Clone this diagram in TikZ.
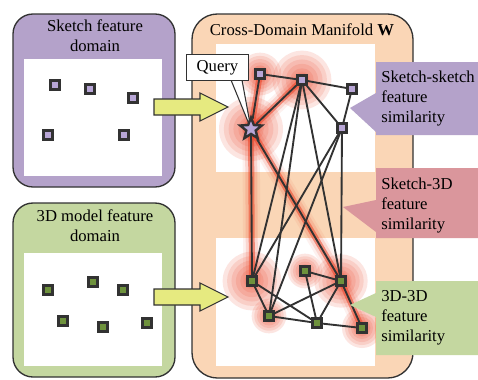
\documentclass[tikz,border=0pt]{standalone}
\usepackage{fontspec}
\setmainfont{Liberation Serif}
\usetikzlibrary{shapes.geometric}

\definecolor{skpurple}{RGB}{180,162,202}
\definecolor{mdgreen}{RGB}{196,215,160}
\definecolor{peach}{RGB}{250,214,182}
\definecolor{rose}{RGB}{218,150,156}
\definecolor{arrowyellow}{RGB}{230,234,128}
\definecolor{darkgray}{RGB}{50,50,50}
\definecolor{sknode}{RGB}{184,166,214}
\definecolor{mdnode}{RGB}{110,146,60}
\definecolor{halo}{RGB}{235,60,30}

\pgfdeclarelayer{bg}
\pgfdeclarelayer{glow}
\pgfsetlayers{bg,glow,main}

\tikzset{
  domainbox/.style={draw=darkgray, line width=1pt, rounded corners=15pt},
  sq/.style={draw=darkgray, line width=2.1pt, inner sep=0pt, minimum size=6.2pt},
  sk/.style={sq, fill=sknode},
  md/.style={sq, fill=mdnode},
  edge/.style={draw=darkgray, line width=1.4pt},
  txt/.style={font=\fontsize{12.5}{15}\selectfont, inner sep=0pt},
  arrowbox/.style={draw=darkgray, line width=0.8pt, fill=arrowyellow},
}

% red halo round a node
\newcommand\glowat[2]{%
  \foreach \f in {1,0.85,0.7,0.55,0.4,0.25}{\fill[halo, opacity=.13] (#1.center) circle[radius=#2*\f pt];}}
% red halo along a link
\newcommand\glowline[2]{%
  \draw[halo, opacity=.07, line width=13pt, line cap=round] (#1.center) -- (#2.center);
  \draw[halo, opacity=.14, line width=9pt, line cap=round] (#1.center) -- (#2.center);
  \draw[halo, opacity=.5, line width=4.5pt] (#1.center) -- (#2.center);}
% big yellow arrow at height #1
\newcommand\fatarrow[1]{%
  \draw[arrowbox] (154,{#1-8}) -- (200,{#1-8}) -- (200,{#1-14}) -- (228,#1)
    -- (200,{#1+14}) -- (200,{#1+8}) -- (154,{#1+8}) -- cycle;}

\begin{document}
\begin{tikzpicture}[x=0.75pt,y=-0.75pt]
\useasboundingbox (0,0) rectangle (478,379);

%domain boxes
\begin{pgfonlayer}{bg}
  \draw[domainbox, fill=skpurple] (13,14) rectangle (175,187);
  \fill[white] (24,59) rectangle (162,176);
  \draw[domainbox, fill=mdgreen] (13,203) rectangle (175,377);
  \fill[white] (24,253) rectangle (162,366);
  \draw[domainbox, rounded corners=19pt, fill=peach] (192,14) rectangle (413,378);
  \fill[white] (216,44) rectangle (375,172);
  \fill[white] (216,238) rectangle (375,366);
\end{pgfonlayer}

\node[txt, align=center] (sktitle) at (95,36) {Sketch feature\\domain};
\node[txt, align=center] (mdtitle) at (95,226) {3D model feature\\domain};
\node[txt] (wtitle) at (302,30) {Cross-Domain Manifold \textbf{W}};

% points in the two domains
\node[sk] (a1) at (55,85) {};
\node[sk] (a2) at (90,89) {};
\node[sk] (a3) at (133,98) {};
\node[sk] (a4) at (48,135) {};
\node[sk] (a5) at (124,135) {};
\node[md] (b1) at (48,290) {};
\node[md] (b2) at (93,282) {};
\node[md] (b3) at (123,290) {};
\node[md] (b4) at (63,321) {};
\node[md] (b5) at (103,327) {};
\node[md] (b6) at (147,323) {};

\fatarrow{107}
\fatarrow{297}

% manifold graph
\node[sk, minimum size=6.6pt] (s1) at (260,74) {};
\node[sk, minimum size=6.6pt] (s2) at (302,80) {};
\node[sk, minimum size=6.6pt] (s3) at (352,89) {};
\node[sk, minimum size=6.6pt] (s4) at (342,128) {};
\node[md, minimum size=6.6pt] (m1) at (252,281) {};
\node[md, minimum size=6.6pt] (m2) at (305,271) {};
\node[md, minimum size=6.6pt] (m3) at (341,281) {};
\node[md, minimum size=6.6pt] (m4) at (269,316) {};
\node[md, minimum size=6.6pt] (m5) at (317,323) {};
\node[md, minimum size=6.6pt] (m6) at (362,328) {};

\begin{pgfonlayer}{glow}
  \glowat{s1}{16}
  \glowat{s2}{22}
  \glowat{m1}{22}
  \glowat{m3}{20}
  \glowat{m6}{15}
  \glowat{m4}{13}
  \glowat{m2}{13}
  \glowline{m3}{m6}
\end{pgfonlayer}

% query callout
\draw[darkgray, line width=0.8pt, fill=white] (231,80) -- (251,129) -- (242,80);
\node[txt, draw=darkgray, line width=0.8pt, fill=white, inner xsep=4pt, inner ysep=3pt,
  minimum width=47pt, minimum height=20pt] (query) at (217.5,67.5) {Query};
\node[star, star points=5, star point ratio=2.3, draw=darkgray, line width=1.8pt,
  fill=sknode, inner sep=0pt, minimum size=17pt] (q) at (251,129) {};

\begin{pgfonlayer}{glow}
  \glowat{q}{24}
  \glowline{q}{s1}
  \glowline{q}{s2}
  \glowline{q}{m1}
  \glowline{q}{m3}
\end{pgfonlayer}

\foreach \a/\b in {q/s1, q/s2, s1/s2, s2/s3, s3/s4, s2/s4,
    q/m1, q/m3, s2/m1, s2/m4, s2/m3, s4/m1, s4/m4, s4/m3,
    m1/m4, m1/m5, m4/m3, m4/m5, m2/m3, m2/m5, m3/m5, m3/m6, m5/m6}
  \draw[edge] (\a) -- (\b);

% similarity labels
\fill[skpurple] (376,62) -- (478,62) -- (478,135) -- (376,135) -- (376,132)
  -- (350,108) -- (376,93) -- cycle;
\node[txt, align=left, anchor=west] (sksim) at (381,99) {Sketch-sketch\\feature\\similarity};
\fill[rose] (376,168) -- (478,168) -- (478,238) -- (376,238) -- (376,232)
  -- (343,207) -- (376,200) -- cycle;
\node[txt, align=left, anchor=west] (crosssim) at (381,206) {Sketch-3D\\feature\\similarity};
\fill[mdgreen] (376,281) -- (478,281) -- (478,355) -- (376,355) -- (376,317)
  -- (350,305) -- (376,293) -- cycle;
\node[txt, align=left, anchor=west] (mdsim) at (381,318) {3D-3D\\feature\\similarity};
\end{tikzpicture}
\end{document}
